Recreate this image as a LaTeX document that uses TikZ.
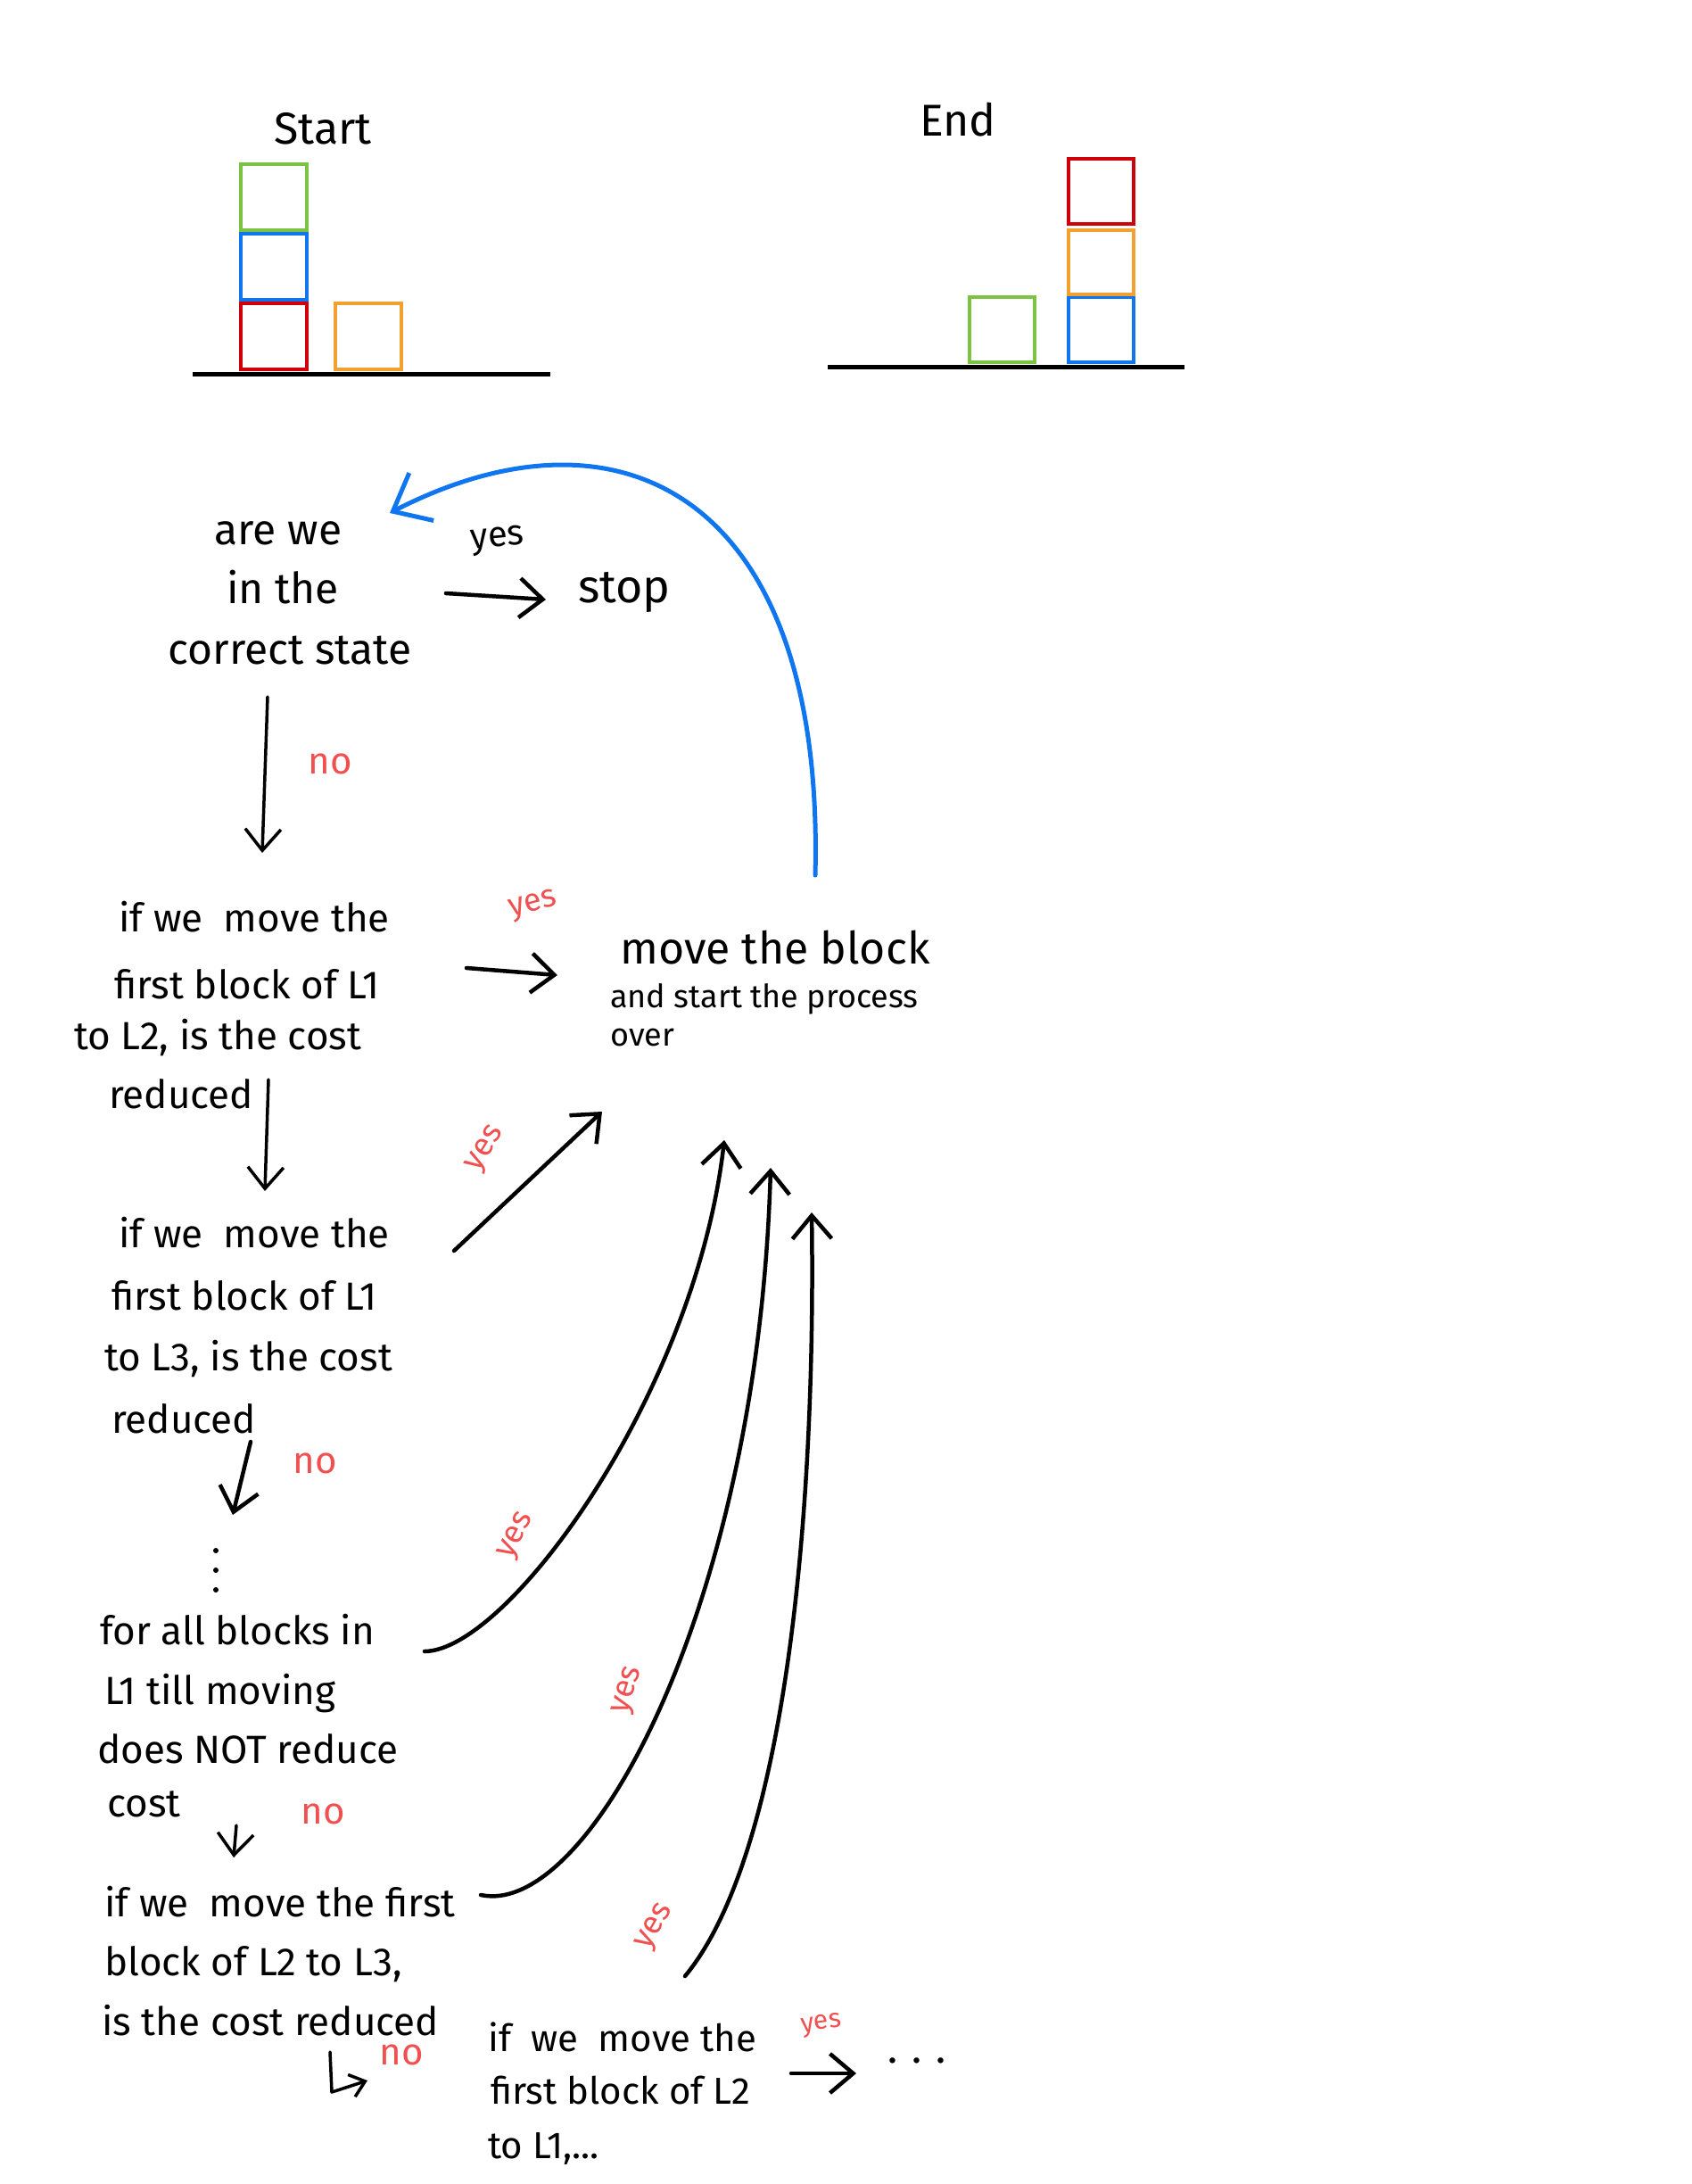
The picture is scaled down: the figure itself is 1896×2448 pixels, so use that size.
\documentclass[tikz,border=0pt]{standalone}
\usepackage{fontspec}
\setmainfont{Fira Sans}
\usetikzlibrary{arrows.meta}
\definecolor{bgreen}{RGB}{125,195,66}
\definecolor{bblue}{RGB}{16,118,240}
\definecolor{bred}{RGB}{208,0,10}
\definecolor{borange}{RGB}{242,160,48}
\definecolor{nored}{RGB}{240,80,80}
\tikzset{
  blk/.style={line width=4pt},
  ground/.style={line width=5pt},
  txt/.style={font=\fontsize{44}{48}\selectfont, inner sep=0pt, anchor=west},
  smalltxt/.style={font=\fontsize{36}{40}\selectfont, inner sep=0pt, anchor=west},
  lbl/.style={font=\fontsize{42}{46}\selectfont, inner sep=0pt, text=nored},
  ylbl/.style={font=\fontsize{36}{40}\selectfont, inner sep=0pt, text=nored},
  hand/.style={line width=4.5pt, line cap=round, line join=round,
    -{Straight Barb[length=26pt,width=44pt,line width=4.5pt]}},
  handthin/.style={line width=3.5pt, line cap=round, line join=round,
    -{Straight Barb[length=24pt,width=40pt,line width=3.5pt]}},
  bluearr/.style={line width=5pt, line cap=round, color=bblue,
    -{Straight Barb[length=36pt,width=60pt,line width=5pt]}},
  dot/.style={circle, fill=black, inner sep=0pt, minimum size=6pt}
}
\begin{document}
\begin{tikzpicture}[x=1pt,y=-1pt]
\useasboundingbox (0,0) rectangle (1896,2448);
% ---------- Start state ----------
\node[font=\fontsize{50}{54}\selectfont, inner sep=0pt] (start) at (362,144) {Start};
\draw[blk, bgreen] (270,184) rectangle (344,258);
\draw[blk, bblue] (270,262) rectangle (344,336);
\draw[blk, bred] (270,340) rectangle (344,414);
\draw[blk, borange] (376,340) rectangle (450,414);
\draw[ground] (216,419) -- (617,419);
% ---------- End state ----------
\node[font=\fontsize{50}{54}\selectfont, inner sep=0pt] (end) at (1074,134) {End};
\draw[blk, bgreen] (1087,333) rectangle (1160,406);
\draw[blk, bblue] (1198,333) rectangle (1271,406);
\draw[blk, borange] (1198,258) rectangle (1271,330);
\draw[blk, bred] (1198,178) rectangle (1271,251);
\draw[ground] (928,411) -- (1328,411);
% ---------- question 1 ----------
\node[txt, anchor=center, font=\fontsize{48}{52}\selectfont] (q1a) at (312,598) {are we};
\node[txt, anchor=center, font=\fontsize{48}{52}\selectfont] (q1b) at (317,658) {in the};
\node[txt, anchor=center, font=\fontsize{48}{52}\selectfont] (q1c) at (325,729) {correct state};
\node[lbl, text=black, font=\fontsize{40}{44}\selectfont, rotate=5] (y0) at (558,606) {yes};
\node[txt, font=\fontsize{52}{56}\selectfont] (stop) at (648,664) {stop};
\coordinate (a0s) at (500,665);
\coordinate (a0e) at (612,672);
\draw[hand] (a0s) -- (a0e);
\coordinate (n1s) at (300,781);
\coordinate (n1e) at (294,956);
\draw[handthin] (n1s) -- (n1e);
\node[lbl] (no1) at (370,856) {no};
% ---------- question 2 ----------
\node[txt] (q2a) at (133,1028) {if we\ \ move the};
\node[txt] (q2b) at (128,1103) {first block of L1};
\node[txt] (q2c) at (83,1163) {to L2, is the cost};
\node[txt] (q2d) at (122,1226) {reduced};
\node[ylbl, rotate=15] (y1) at (598,1015) {yes};
\coordinate (a1s) at (523,1085);
\coordinate (a1e) at (625,1093);
\draw[hand] (a1s) -- (a1e);
% ---------- move the block ----------
\node[txt, font=\fontsize{50}{54}\selectfont] (mv1) at (695,1062) {move the block};
\node[smalltxt] (mv2) at (684,1120) {and start the process};
\node[smalltxt] (mv3) at (684,1163) {over};
% blue loop
\coordinate (bls) at (914,981);
\coordinate (ble) at (437,575);
\draw[bluearr] (bls) .. controls (925,560) and (700,440) .. (ble);
% ---------- question 3 ----------
\coordinate (n2s) at (301,1210);
\coordinate (n2e) at (297,1335);
\draw[handthin] (n2s) -- (n2e);
\node[txt] (q3a) at (133,1382) {if we\ \ move the};
\node[txt] (q3b) at (125,1452) {first block of L1};
\node[txt] (q3c) at (117,1523) {to L3, is the cost};
\node[txt] (q3d) at (125,1590) {reduced};
\node[ylbl, rotate=58] (y2) at (545,1288) {yes};
\coordinate (a2s) at (509,1402);
\coordinate (a2e) at (675,1246);
\draw[hand] (a2s) -- (a2e);
\coordinate (n3s) at (281,1616);
\coordinate (n3e) at (261,1698);
\draw[hand] (n3s) -- (n3e);
\node[lbl] (no3) at (353,1640) {no};
% dots
\node[dot] (vd1) at (242,1738) {};
\node[dot] (vd2) at (242,1760) {};
\node[dot] (vd3) at (242,1782) {};
% ---------- question 4 ----------
\node[txt] (q4a) at (112,1827) {for all blocks in};
\node[txt] (q4b) at (117,1898) {L1 till moving};
\node[txt] (q4c) at (109,1960) {does NOT reduce};
\node[txt] (q4d) at (120,2022) {cost};
\coordinate (c1s) at (476,1851);
\coordinate (c1e) at (812,1278);
\draw[hand] (c1s) .. controls (570,1850) and (780,1560) .. (c1e);
\node[ylbl, rotate=62] (y3) at (580,1722) {yes};
\coordinate (n4s) at (265,2046);
\coordinate (n4e) at (262,2082);
\draw[handthin] (n4s) -- (n4e);
\node[lbl] (no4) at (362,2033) {no};
% ---------- question 5 ----------
\node[txt] (q5a) at (117,2132) {if we\ \ move the first};
\node[txt] (q5b) at (117,2202) {block of L2 to L3,};
\node[txt] (q5c) at (114,2265) {is the cost reduced};
\coordinate (c2s) at (539,2124);
\coordinate (c2e) at (864,1309);
\draw[hand] (c2s) .. controls (660,2150) and (850,1800) .. (c2e);
\node[ylbl, rotate=72] (y4) at (705,1895) {yes};
\coordinate (c3s) at (768,2215);
\coordinate (c3e) at (910,1359);
\draw[hand] (c3s) .. controls (880,2080) and (915,1700) .. (c3e);
\node[ylbl, rotate=60] (y5) at (735,2160) {yes};
\coordinate (h1) at (370,2300);
\coordinate (h2) at (372,2345);
\coordinate (h3) at (412,2332);
\draw[line width=3.5pt, line cap=round, line join=round,
  -{Straight Barb[length=16pt,width=26pt,line width=3.5pt]}] (h1) -- (h2) -- (h3);
\node[lbl] (no5) at (450,2303) {no};
% ---------- question 6 ----------
\node[txt, font=\fontsize{42}{46}\selectfont] (q6a) at (547,2283) {if\ \ we\ \ move the};
\node[txt, font=\fontsize{42}{46}\selectfont] (q6b) at (550,2343) {first block of L2};
\node[txt, font=\fontsize{42}{46}\selectfont] (q6c) at (547,2408) {to L1,...};
\node[ylbl, font=\fontsize{30}{34}\selectfont, rotate=8] (y6) at (921,2270) {yes};
\coordinate (a6s) at (887,2324);
\coordinate (a6e) at (960,2324);
\draw[hand] (a6s) -- (a6e);
\node[txt, font=\fontsize{46}{50}\selectfont] (dots6) at (995,2310) {. . .};
\end{tikzpicture}
\end{document}
